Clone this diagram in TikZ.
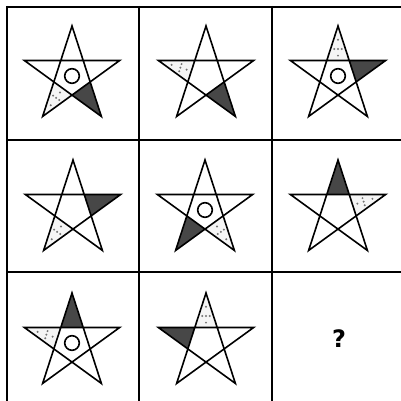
\documentclass[tikz,border=0pt]{standalone}
\usepackage{fontspec}
\setmainfont{DejaVu Sans}
\usetikzlibrary{calc}
\tikzset{
  gridline/.style={line width=2pt},
  starline/.style={line width=1.6pt, line join=miter},
  darkfill/.style={fill=black!72},
  dotfill/.style={fill=black!4},
  speck/.style={fill=black!55},
  ring/.style={line width=1.6pt, fill=white},
}
\newcommand\StarR{50}
\newcommand\Starr{19.1}
\newcommand\pointtri[1]{({90+72*#1-36}:\Starr) -- ({90+72*#1}:\StarR) -- ({90+72*#1+36}:\Starr) -- cycle}
\newcommand\starcell[5]{%
  \begin{scope}[shift={(#1,#2)}]
    \fill[darkfill] \pointtri{#3};
    \fill[dotfill] \pointtri{#4};
    \coordinate (da) at ({90+72*#4-36}:\Starr);
    \coordinate (db) at ({90+72*#4}:\StarR);
    \coordinate (dc) at ({90+72*#4+36}:\Starr);
    \foreach \u/\v/\w in {3/1/3, 1/1/1, 1/3/1, 3/2/1, 1/2/3}
      \fill[speck] (barycentric cs:da=\u,db=\v,dc=\w) circle (1.1);
    \draw[starline] (90:\StarR) -- (234:\StarR) -- (18:\StarR) -- (162:\StarR) -- (306:\StarR) -- cycle;
    \ifnum#5=1 \draw[ring] (0,0) circle (7.3); \fi
  \end{scope}}
\begin{document}
\begin{tikzpicture}[x=1pt,y=1pt]
  \useasboundingbox (0,0) rectangle (401,401);
  \fill[white] (0,0) rectangle (401,401);
  % grid
  \coordinate (h1a) at (7,394); \coordinate (h1b) at (401,394);
  \coordinate (h2a) at (7,261); \coordinate (h2b) at (401,261);
  \coordinate (h3a) at (7,129); \coordinate (h3b) at (401,129);
  \coordinate (v1a) at (7,395); \coordinate (v1b) at (7,0);
  \coordinate (v2a) at (139,395); \coordinate (v2b) at (139,0);
  \coordinate (v3a) at (272,395); \coordinate (v3b) at (272,0);
  \draw[gridline] (h1a) -- (h1b);
  \draw[gridline] (h2a) -- (h2b);
  \draw[gridline] (h3a) -- (h3b);
  \draw[gridline] (v1a) -- (v1b);
  \draw[gridline] (v2a) -- (v2b);
  \draw[gridline] (v3a) -- (v3b);
  % stars: center x, center y, dark point, dotted point, circle
  % points: 0 top, 1 left, 2 bottom-left, 3 bottom-right, 4 right
  \starcell{72}{325}{3}{2}{1}
  \starcell{206}{325}{3}{1}{0}
  \starcell{338}{325}{4}{0}{1}
  \starcell{73}{191}{4}{2}{0}
  \starcell{205}{191}{2}{3}{1}
  \starcell{338}{191}{0}{4}{0}
  \starcell{72}{58}{0}{1}{1}
  \starcell{206}{58}{1}{0}{0}
  \node[font=\bfseries\fontsize{24}{28}\selectfont] (q) at (339,62) {?};
\end{tikzpicture}
\end{document}
